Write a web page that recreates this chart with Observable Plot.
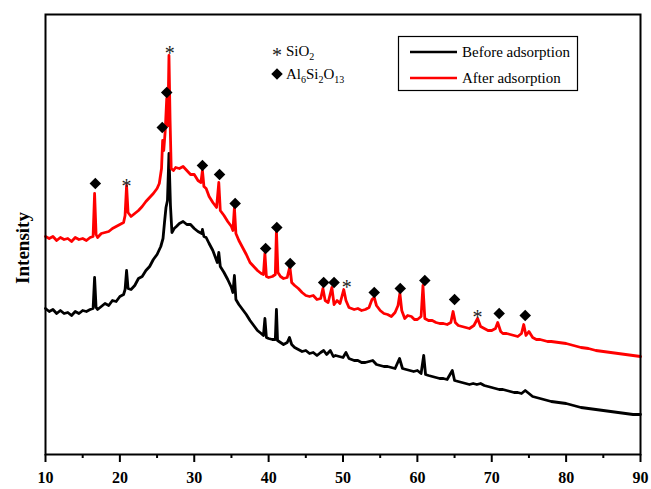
<!DOCTYPE html>
<html>
<head>
<meta charset="utf-8">
<script src="https://cdn.jsdelivr.net/npm/d3@7"></script>
<script src="https://cdn.jsdelivr.net/npm/@observablehq/plot@0.6"></script>
<style>
  html, body { margin: 0; padding: 0; background: #fff; }
  #chart { width: 651px; height: 489px; }
  #chart svg text { font-family: "Liberation Serif", "Times New Roman", serif; }
</style>
</head>
<body>
<div id="chart"></div>
<script>
// 2θ (degrees) and intensity (a.u.)
const beforeTheta = [10,10.5,11,11.5,12,12.5,13,13.5,14,14.5,15,15.5,16,16.4,16.6,16.8,17,17.5,18,18.5,19,19.5,20,20.5,20.7,20.9,21.1,21.5,22,22.5,23,23.5,24,24.5,25,25.5,25.8,26.0,26.2,26.4,26.6,26.8,27.0,27.3,27.6,28,28.5,29,29.5,30,30.5,31,31.1,31.3,31.6,32,32.5,33.1,33.3,33.5,34,34.5,35,35.2,35.4,35.6,36,36.5,37,37.5,38,38.5,39,39.3,39.5,39.7,40,40.5,40.9,41.05,41.2,41.6,42,42.5,42.8,43.1,43.5,44,44.5,45,45.5,46,46.5,47,47.4,47.8,48.3,48.7,49,49.5,50,50.4,50.8,51.5,52,52.5,53,53.5,54,54.5,55,55.5,56,56.5,57,57.6,58,58.5,59,59.5,60,60.5,60.85,61.1,61.5,62,62.5,63,63.5,64,64.7,65,65.5,66,66.5,67,67.5,68,68.5,69,69.5,70,70.5,71,71.5,72,72.5,73,73.5,74,74.5,75,75.5,76,77,78,79,80,81,82,83,84,85,86,87,88,89,90];
const beforeIntensity = [146,143,145,141,144,141,142,139,143,141,144,143,145,146,177,147,145,148,151,149,154,153,158,160,165,184,166,165,169,176,178,184,188,195,200,208,216,232,247,254,301,249,222,226,228,231,233,230,230,226,223,221,225,218,217,211,204,192,202,188,182,175,167,162,179,155,150,145,140,134,129,124,121,119,136,117,116,115,115,145,114,112,110,112,117,110,107,105,103,104,101,102,99,102,104,100,104,98,99,98,97,102,96,94,94,92,92,93,94,90,89,88,88,87,86,96,86,85,84,83,84,81,99,80,79,78,77,76,76,75,84,74,73,72,71,70,71,70,71,69,68,67,66,65,65,64,63,62,62,61,64,61,58,57,55,53,52,51,49,47,46,45,44,43,42,41,40,40];

const afterTheta = [10,10.5,11,11.5,12,12.5,13,13.5,14,14.5,15,15.5,16,16.4,16.6,16.8,17,17.5,18,18.5,19,19.5,20,20.5,20.7,20.9,21.1,21.5,22,22.5,23,23.5,24,24.5,25,25.3,25.6,25.75,25.9,26.1,26.3,26.45,26.6,26.75,26.9,27.2,27.5,28,28.5,29,29.5,30,30.5,30.9,31.1,31.3,31.6,32,32.5,33,33.3,33.5,34,34.5,35,35.2,35.4,35.6,36,36.5,37,37.5,38,38.5,39,39.3,39.5,39.7,40,40.5,40.9,41.05,41.25,41.6,42,42.5,42.85,43.1,43.5,44,44.5,45,45.5,46,46.5,47,47.3,47.6,48,48.5,48.8,49.2,49.6,50.1,50.4,50.8,51.5,52,52.5,53,53.5,53.9,54.2,54.5,55,55.5,56,56.5,57,57.4,57.65,57.9,58.3,58.7,59.2,59.6,60,60.5,60.75,61.0,61.5,62,62.5,63,63.5,64,64.5,64.8,65.1,65.5,66,66.5,67,67.6,68.1,68.5,69,69.5,70,70.5,70.8,71.2,71.5,72,72.5,73,73.5,74,74.3,74.6,75,75.5,76,76.5,77,77.5,78,79,80,81,82,83,84,85,86,87,88,89,90];
const afterIntensity = [218,216,218,214,217,215,216,213,217,215,216,214,217,218,261,220,217,221,222,223,226,228,230,232,239,269,242,238,241,244,248,253,257,261,266,271,286,314,304,324,356,329,399,334,286,284,287,286,288,284,280,280,274,272,284,268,266,258,252,247,272,244,239,233,228,224,247,221,214,207,200,192,188,184,181,180,201,178,177,178,180,224,182,178,176,177,188,172,169,166,162,159,158,159,155,156,166,154,152,167,150,154,151,165,154,147,145,146,144,145,147,155,157,149,144,141,140,138,142,149,161,144,136,139,138,135,135,138,169,136,134,134,132,131,131,130,132,143,132,129,128,127,126,129,136,128,126,124,124,126,132,123,121,121,120,119,118,121,130,119,123,117,115,115,114,113,113,112,111,109,107,106,104,103,102,101,100,99,98];

// Phase markers
const mulliteTheta = [16.7,25.7,26.3,31.1,33.4,35.5,39.6,41.1,42.9,47.4,48.8,54.2,57.7,61.0,65.0,71.0,74.5];
const mulliteIntensity = [271,327,362,289,280,251,206,227,191,172,172,162,166,174,155,141,139];
const quartzTheta = [20.9,26.7,50.5,68.1];
const quartzIntensity = [273,406,172,142];

const xTicks = [10,20,30,40,50,60,70,80,90];
const xMinorTicks = [15,25,35,45,55,65,75,85];
const seriesNames = ["Before adsorption","After adsorption"];
const seriesColors = ["#000000","#ff0000"];

const before = beforeTheta.map((t,i) => ({theta: t, intensity: beforeIntensity[i]}));
const after = afterTheta.map((t,i) => ({theta: t, intensity: afterIntensity[i]}));
const mullite = mulliteTheta.map((t,i) => ({theta: t, intensity: mulliteIntensity[i]}));
const quartz = quartzTheta.map((t,i) => ({theta: t, intensity: quartzIntensity[i]}));

const serif = "Liberation Serif";
const markerR = 5.2;

const plot = Plot.plot({
  width: 651,
  height: 489,
  marginTop: 14,
  marginRight: 11,
  marginBottom: 35,
  marginLeft: 45,
  style: {fontFamily: serif, background: "#fff", overflow: "visible"},
  x: {domain: [10, 90]},
  y: {domain: [0, 440]},
  marks: [
    Plot.line(before, {x: "theta", y: "intensity", stroke: seriesColors[0], strokeWidth: 2.8, strokeLinejoin: "round"}),
    Plot.line(after, {x: "theta", y: "intensity", stroke: seriesColors[1], strokeWidth: 2.8, strokeLinejoin: "round"}),
    Plot.dot(mullite, {x: "theta", y: "intensity", symbol: "diamond2", r: markerR, fill: "black", stroke: "none"}),
    Plot.text(quartz, {x: "theta", y: "intensity", text: () => "*", fontSize: 20, dy: 5, fill: "#222", fontFamily: serif}),
    Plot.frame({stroke: "black", strokeWidth: 2}),
    Plot.axisX({ticks: xTicks, tickSize: 8, tickPadding: 9, strokeWidth: 2, fontSize: 16, fontWeight: "bold", fontFamily: serif, label: null, tickFormat: d => String(d), fill: "black"}),
    Plot.axisX({ticks: xMinorTicks, tickSize: 4, strokeWidth: 2, tickFormat: () => "", label: null}),
    Plot.axisY({ticks: [], label: null})
  ]
});

document.getElementById("chart").appendChild(plot);

const svg = d3.select(plot);

// Y axis title
svg.append("text")
  .attr("transform", "translate(29,248) rotate(-90)")
  .attr("text-anchor", "middle")
  .attr("font-family", serif)
  .attr("font-weight", "bold")
  .attr("font-size", 19)
  .attr("fill", "black")
  .text("Intensity");

// Phase key
const key = svg.append("g").attr("font-family", serif).attr("font-size", 15).attr("fill", "black").attr("text-anchor", "start");
key.append("text").attr("x", 277).attr("y", 62).attr("text-anchor", "middle").attr("font-size", 20).attr("fill", "#222").text("*");
const t1 = key.append("text").attr("x", 286).attr("y", 56).attr("text-anchor", "start");
t1.append("tspan").text("SiO");
t1.append("tspan").attr("font-size", 10).attr("dy", 4).text("2");
key.append("path").attr("d", d3.symbol(d3.symbolDiamond2, Math.PI * markerR * markerR)()).attr("transform", "translate(277,74)").attr("fill", "black");
const t2 = key.append("text").attr("x", 286).attr("y", 79).attr("text-anchor", "start");
t2.append("tspan").text("Al");
t2.append("tspan").attr("font-size", 10).attr("dy", 4).text("6");
t2.append("tspan").attr("dy", -4).text("Si");
t2.append("tspan").attr("font-size", 10).attr("dy", 4).text("2");
t2.append("tspan").attr("dy", -4).text("O");
t2.append("tspan").attr("font-size", 10).attr("dy", 4).text("13");

// Series legend box
const lg = svg.append("g").attr("font-family", serif).attr("font-size", 15).attr("text-anchor", "start");
lg.append("rect").attr("x", 398.5).attr("y", 36.5).attr("width", 179).attr("height", 54)
  .attr("fill", "white").attr("stroke", "black").attr("stroke-width", 1.2);
seriesNames.forEach((name, i) => {
  const y = 52 + i * 26;
  lg.append("line").attr("x1", 410).attr("x2", 457).attr("y1", y).attr("y2", y)
    .attr("stroke", seriesColors[i]).attr("stroke-width", 2.5);
  lg.append("text").attr("x", 462).attr("y", y + 5).attr("fill", "black").attr("text-anchor", "start").text(name);
});
</script>
</body>
</html>
